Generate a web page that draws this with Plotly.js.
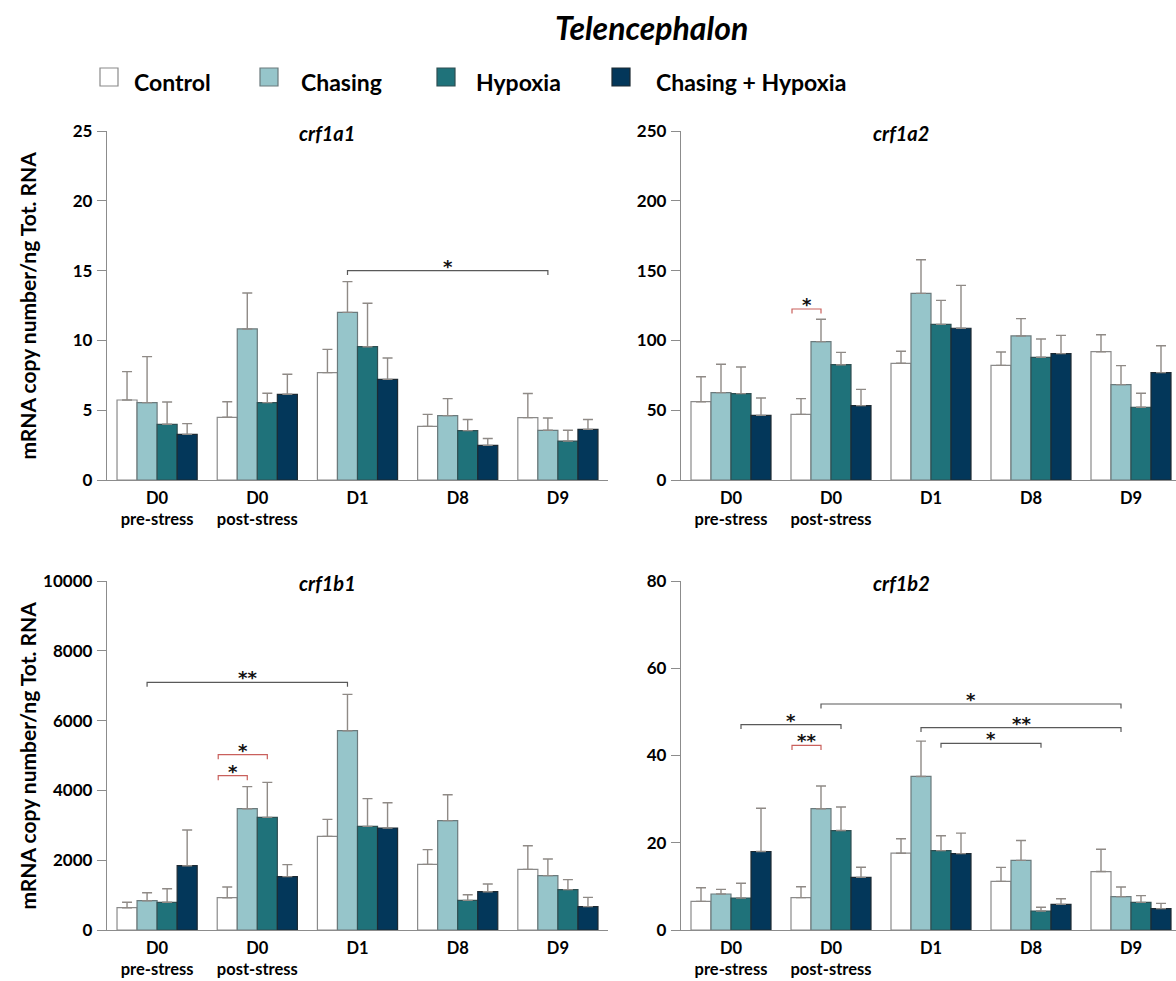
<!DOCTYPE html>
<html>
<head>
<meta charset="utf-8">
<script src="https://cdn.plot.ly/plotly-3.0.1.min.js"></script>
<style>
  html, body { margin: 0; padding: 0; background: #ffffff; }
  #chart { width: 1176px; height: 981px; }
</style>
</head>
<body>
<div id="chart"></div>
<script>
// ---------------- DATA ----------------
const categories = ['D0<br>pre-stress', 'D0<br>post-stress', 'D1', 'D8', 'D9'];
const groups = ['Control', 'Chasing', 'Hypoxia', 'Chasing + Hypoxia'];
const genes = ['crf1a1', 'crf1a2', 'crf1b1', 'crf1b2'];

// mean values, one row per group (Control, Chasing, Hypoxia, Chasing + Hypoxia)
const crf1a1Mean = [
  [5.73, 4.49, 7.69, 3.84, 4.47],
  [5.54, 10.82, 12.01, 4.61, 3.56],
  [3.99, 5.54, 9.55, 3.54, 2.79],
  [3.27, 6.14, 7.21, 2.48, 3.63]
];
const crf1a1Sem = [
  [2.03, 1.12, 1.67, 0.86, 1.73],
  [3.30, 2.58, 2.20, 1.22, 0.88],
  [1.60, 0.67, 3.11, 0.79, 0.77],
  [0.77, 1.43, 1.53, 0.49, 0.70]
];
const crf1a2Mean = [
  [56.1, 47.0, 83.6, 82.1, 91.9],
  [62.6, 99.1, 133.7, 103.2, 68.3],
  [61.9, 82.6, 111.5, 87.9, 52.1],
  [46.3, 53.3, 108.7, 90.5, 76.9]
];
const crf1a2Sem = [
  [17.9, 11.3, 8.6, 9.6, 12.2],
  [20.3, 16.0, 24.1, 12.4, 13.6],
  [19.0, 8.8, 17.2, 13.1, 10.0],
  [12.4, 11.6, 30.7, 13.1, 19.3]
];
const crf1b1Mean = [
  [639, 926, 2684, 1881, 1738],
  [840, 3476, 5711, 3133, 1557],
  [793, 3228, 2970, 850, 1156],
  [1843, 1528, 2922, 1098, 669]
];
const crf1b1Sem = [
  [154, 306, 487, 421, 678],
  [229, 631, 1041, 744, 477],
  [391, 1003, 793, 162, 286],
  [1022, 344, 726, 220, 267]
];
const crf1b2Mean = [
  [6.57, 7.41, 17.6, 11.15, 13.4],
  [8.25, 27.8, 35.2, 15.97, 7.64],
  [7.34, 22.8, 18.2, 4.36, 6.34],
  [18.0, 12.07, 17.5, 5.88, 4.89]
];
const crf1b2Sem = [
  [3.13, 2.52, 3.3, 3.21, 5.1],
  [1.07, 5.2, 8.1, 4.53, 2.22],
  [3.36, 5.4, 3.4, 0.84, 1.53],
  [9.9, 2.33, 4.7, 1.3, 1.22]
];

// y-axis maxima and tick steps
const yMax = [25, 250, 10000, 80];
const yStep = [5, 50, 2000, 20];

// significance brackets: [category, group, edge?] endpoints, level in data units
const crf1a1Sig = [
  { from: [2, 1], to: [4, 1], level: 15.0, label: '*', red: false }
];
const crf1a2Sig = [
  { from: [1, 0, 'left'], to: [1, 1], level: 122.5, label: '*', red: true }
];
const crf1b1Sig = [
  { from: [0, 1], to: [2, 1], level: 7097, label: '**', red: false },
  { from: [1, 0, 'left'], to: [1, 2], level: 5023, label: '*', red: true },
  { from: [1, 0, 'left'], to: [1, 1], level: 4421, label: '*', red: true }
];
const crf1b2Sig = [
  { from: [1, 1], to: [4, 1], level: 51.8, label: '*', red: false },
  { from: [0, 2], to: [1, 2], level: 47.1, label: '*', red: false },
  { from: [1, 0, 'left'], to: [1, 1], level: 42.3, label: '**', red: true },
  { from: [2, 1], to: [4, 1], level: 46.4, label: '**', red: false },
  { from: [2, 2], to: [3, 2], level: 42.8, label: '*', red: false }
];

// ---------------- STYLE / LAYOUT ----------------
const W = 1176, H = 981;
const FONT = 'Lato, "Open Sans", "Noto Sans", sans-serif';
const STAR_FONT = '"DejaVu Sans", sans-serif';
const fillColors = ['#ffffff', '#96c5ca', '#1f727a', '#03375a'];
const lineColors = ['#8a8a8a', '#6b7a7c', '#2f4f52', '#1d2a33'];
const axisGray = '#8c8c8c';
const bracketBlack = '#595959';
const bracketRed = '#c9605c';

// panel pixel boxes: [left, right, top, bottom]
const panels = [
  [107, 608, 131, 480],
  [681, 1176, 131, 480],
  [107, 608, 581, 930],
  [681, 1176, 581, 930]
];
const xRanges = [[-0.5, 4.5], [-0.5, 4.45], [-0.5, 4.5], [-0.5, 4.45]];

const means = [crf1a1Mean, crf1a2Mean, crf1b1Mean, crf1b2Mean];
const sems = [crf1a1Sem, crf1a2Sem, crf1b1Sem, crf1b2Sem];
const sigs = [crf1a1Sig, crf1a2Sig, crf1b1Sig, crf1b2Sig];

const px = v => v / W;
const py = v => 1 - v / H;

const bargap = 0.2;
const barW = (1 - bargap) / groups.length;
function barCenter(cat, grp) {
  return cat - (1 - bargap) / 2 + barW * (grp + 0.5);
}

const traces = [];
const layout = {
  width: W, height: H,
  margin: { l: 0, r: 0, t: 0, b: 0, pad: 0 },
  paper_bgcolor: '#ffffff',
  plot_bgcolor: 'rgba(0,0,0,0)',
  barmode: 'group',
  bargap: bargap,
  bargroupgap: 0,
  showlegend: false,
  font: { family: FONT, color: '#000000' },
  shapes: [],
  annotations: []
};

const xIdx = arr => arr.map(function (_, i) { return i; });

for (let p = 0; p < 4; p++) {
  const sfx = p === 0 ? '' : String(p + 1);
  const [l, r, t, b] = panels[p];
  layout['xaxis' + sfx] = {
    domain: [px(l), px(r)],
    anchor: 'y' + sfx,
    range: xRanges[p],
    tickmode: 'array',
    tickvals: xIdx(categories),
    ticktext: categories,
    ticks: '',
    showgrid: false,
    zeroline: false,
    showline: true,
    linecolor: axisGray,
    linewidth: 1.2,
    tickfont: { family: FONT, size: 16.5, weight: 'bold', color: '#000' },
    ticklabelstandoff: 3,
    fixedrange: true
  };
  layout['yaxis' + sfx] = {
    domain: [py(b), py(t)],
    anchor: 'x' + sfx,
    range: [0, yMax[p]],
    tick0: 0,
    dtick: yStep[p],
    tickformat: 'd',
    ticks: 'outside',
    ticklen: 9,
    tickwidth: 1,
    tickcolor: axisGray,
    showgrid: false,
    zeroline: false,
    showline: true,
    linecolor: axisGray,
    linewidth: 1.2,
    tickfont: { family: FONT, size: 17, weight: 'bold', color: '#000' },
    ticklabelstandoff: 1,
    fixedrange: true
  };

  for (let g = 0; g < groups.length; g++) {
    traces.push({
      type: 'bar',
      name: groups[g],
      x: xIdx(categories),
      y: means[p][g],
      xaxis: 'x' + sfx,
      yaxis: 'y' + sfx,
      marker: { color: fillColors[g], line: { color: lineColors[g], width: 1.2 } },
      error_y: {
        type: 'data',
        symmetric: false,
        array: sems[p][g],
        arrayminus: sems[p][g].map(function () { return 0; }),
        color: '#8f8a86',
        thickness: 1.4,
        width: 5
      },
      hoverinfo: 'skip'
    });
  }

  // gene title
  layout.annotations.push({
    xref: 'paper', yref: 'paper',
    x: px(l + 220), y: py(t + 2),
    text: genes[p],
    showarrow: false,
    xanchor: 'center', yanchor: 'middle',
    font: { family: FONT, size: 20, weight: 'bold', style: 'italic', color: '#000' }
  });

  // significance brackets
  const plotH = b - t;
  const drop = 4.5 / plotH * yMax[p];
  sigs[p].forEach(function (s) {
    const x1 = s.from[2] === 'left' ? barCenter(s.from[0], s.from[1]) - barW / 2 + 0.01 : barCenter(s.from[0], s.from[1]);
    const x2 = barCenter(s.to[0], s.to[1]);
    const col = s.red ? bracketRed : bracketBlack;
    layout.shapes.push({
      type: 'path', xref: 'x' + sfx, yref: 'y' + sfx,
      path: 'M ' + x1 + ',' + (s.level - drop) + ' L ' + x1 + ',' + s.level +
            ' L ' + x2 + ',' + s.level + ' L ' + x2 + ',' + (s.level - drop),
      line: { color: col, width: 1.2 }
    });
    layout.annotations.push({
      xref: 'x' + sfx, yref: 'y' + sfx,
      x: (x1 + x2) / 2, y: s.level,
      text: s.label,
      showarrow: false,
      xanchor: 'center', yanchor: 'bottom',
      yshift: -8,
      font: { family: STAR_FONT, size: 18, weight: 'bold', color: '#111' }
    });
  });
}

// y-axis titles (left column)
[[131, 480], [581, 930]].forEach(function (tb) {
  layout.annotations.push({
    xref: 'paper', yref: 'paper',
    x: px(27), y: py((tb[0] + tb[1]) / 2),
    text: 'mRNA copy number/ng Tot. RNA',
    showarrow: false, textangle: -90,
    xanchor: 'center', yanchor: 'middle',
    font: { family: FONT, size: 21, weight: 'bold', color: '#000' }
  });
});

// main title
layout.annotations.push({
  xref: 'paper', yref: 'paper',
  x: px(652), y: py(27),
  text: 'Telencephalon',
  showarrow: false, xanchor: 'center', yanchor: 'middle',
  font: { family: FONT, size: 32, weight: 'bold', style: 'italic', color: '#000' }
});

// legend (squares + labels)
const legendSquareX = [100, 260, 437, 612];
const legendTextX = [132, 299, 474, 654];
for (let g = 0; g < groups.length; g++) {
  layout.shapes.push({
    type: 'rect', xref: 'paper', yref: 'paper',
    x0: px(legendSquareX[g]), x1: px(legendSquareX[g] + 18),
    y0: py(86), y1: py(68),
    fillcolor: fillColors[g],
    line: { color: lineColors[g], width: 1.2 }
  });
  layout.annotations.push({
    xref: 'paper', yref: 'paper',
    x: px(legendTextX[g]), y: py(82),
    text: groups[g],
    showarrow: false, xanchor: 'left', yanchor: 'middle',
    font: { family: FONT, size: 23, weight: 'bold', color: '#000' }
  });
}

Plotly.newPlot('chart', traces, layout, { displayModeBar: false, staticPlot: true });
</script>
</body>
</html>
